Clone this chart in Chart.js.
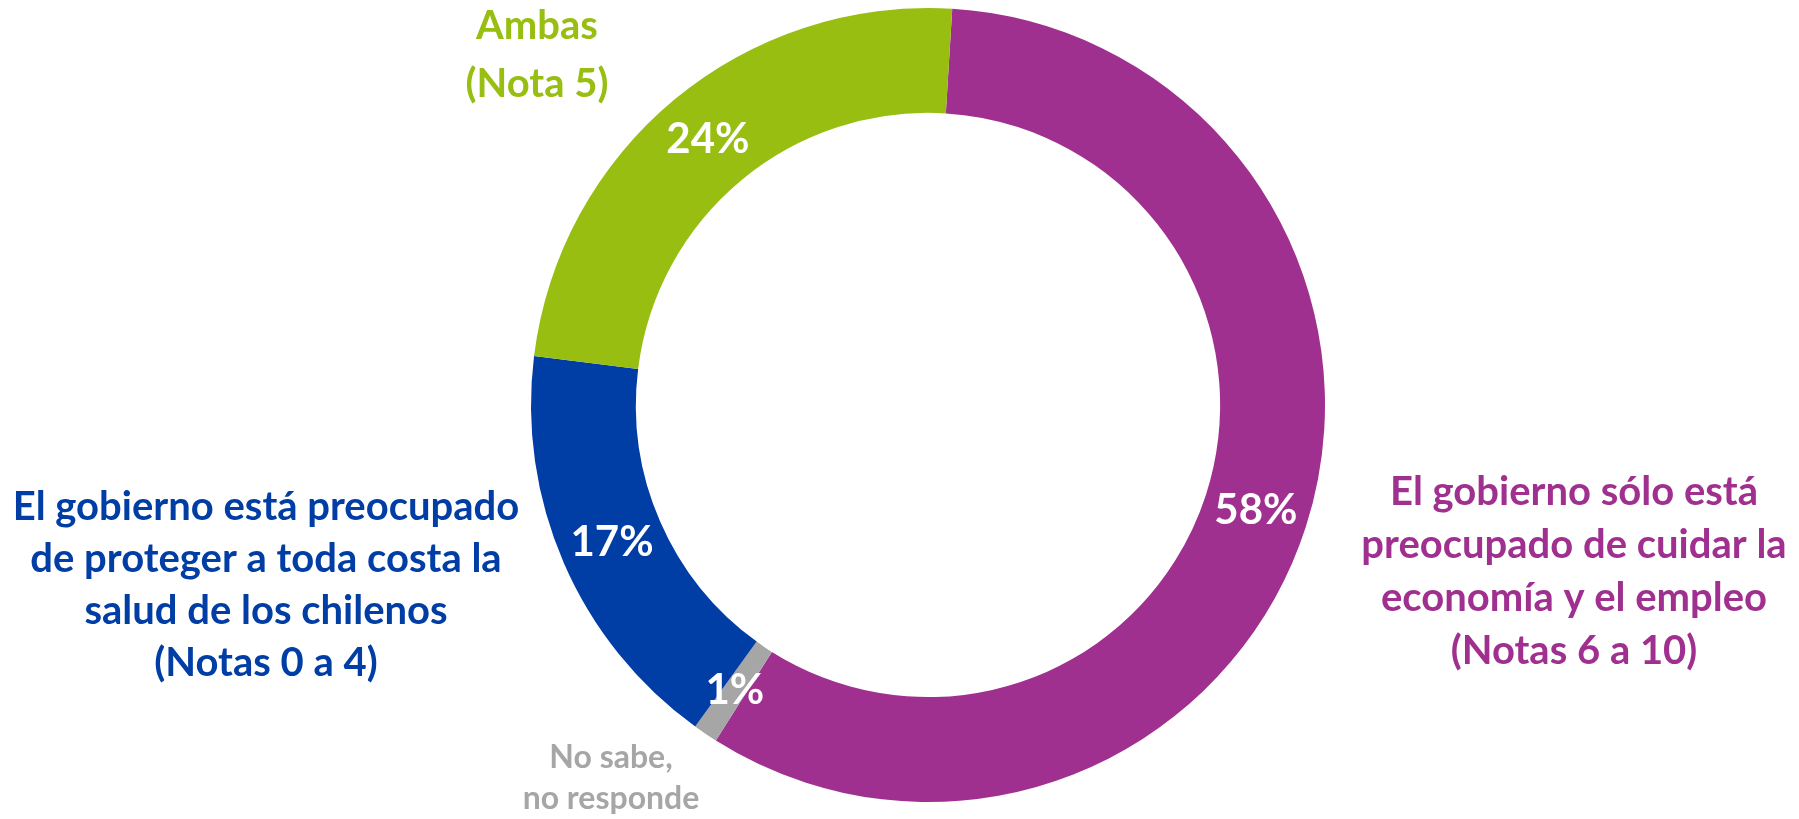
<!DOCTYPE html>
<html>
<head>
<meta charset="utf-8">
<script src="https://cdn.jsdelivr.net/npm/chart.js@4"></script>
<style>
  html, body { margin: 0; padding: 0; background: #fff; }
  #wrap { width: 1799px; height: 819px; position: relative; }
</style>
</head>
<body>
<div id="wrap"><canvas id="chart"></canvas></div>
<script>
// DATA (clockwise from the top)
const categories = [
  "El gobierno sólo está preocupado de cuidar la economía y el empleo (Notas 6 a 10)",
  "No sabe, no responde",
  "El gobierno está preocupado de proteger a toda costa la salud de los chilenos (Notas 0 a 4)",
  "Ambas (Nota 5)",
];
const values = [58, 1, 17, 24];
const colors = ["#A0308F", "#A6A6A6", "#003DA5", "#97BE11"];

// category labels split into lines as in the picture
const labelLines = [
  ["El gobierno sólo está", "preocupado de cuidar la", "economía y el empleo", "(Notas 6 a 10)"],
  ["No sabe,", "no responde"],
  ["El gobierno está preocupado", "de proteger a toda costa la", "salud de los chilenos", "(Notas 0 a 4)"],
  ["Ambas", "(Nota 5)"],
];

// where each label block goes (x centre, first baseline, line step, font size)
const labelPlace = [
  { x: 1574, y: 505, step: 53, size: 40 },
  { x: 611, y: 768, step: 41, size: 32 },
  { x: 266, y: 520, step: 52, size: 40 },
  { x: 537, y: 39, step: 58, size: 40 },
];

const textPlugin = {
  id: "texts",
  afterDatasetsDraw(chart) {
    const ctx = chart.ctx;
    const arcs = chart.getDatasetMeta(0).data;
    ctx.save();
    ctx.textAlign = "center";

    // percentages in the ring
    ctx.fillStyle = "#fff";
    ctx.textBaseline = "middle";
    ctx.font = "bold 42px Lato";
    arcs.forEach((a, i) => {
      const p = a.tooltipPosition();
      ctx.fillText(values[i] + "%", p.x, p.y);
    });

    // category labels
    ctx.textBaseline = "alphabetic";
    labelLines.forEach((lines, i) => {
      const pl = labelPlace[i];
      ctx.fillStyle = colors[i];
      ctx.font = `bold ${pl.size}px Lato`;
      lines.forEach((t, j) => ctx.fillText(t, pl.x, pl.y + j * pl.step));
    });
    ctx.restore();
  },
};

new Chart(document.getElementById("chart"), {
  type: "doughnut",
  data: {
    labels: categories,
    datasets: [
      {
        data: values,
        backgroundColor: colors,
        borderWidth: 0,
        hoverOffset: 0,
        offset: 0,
      },
    ],
  },
  options: {
    responsive: true,
    maintainAspectRatio: false,
    animation: false,
    rotation: 3.5,
    radius: 397,
    cutout: 298,
    layout: { padding: { left: 57, top: 0, bottom: 9, right: 0 } },
    plugins: {
      legend: { display: false },
      tooltip: { enabled: false },
    },
  },
  plugins: [textPlugin],
});
</script>
</body>
</html>
